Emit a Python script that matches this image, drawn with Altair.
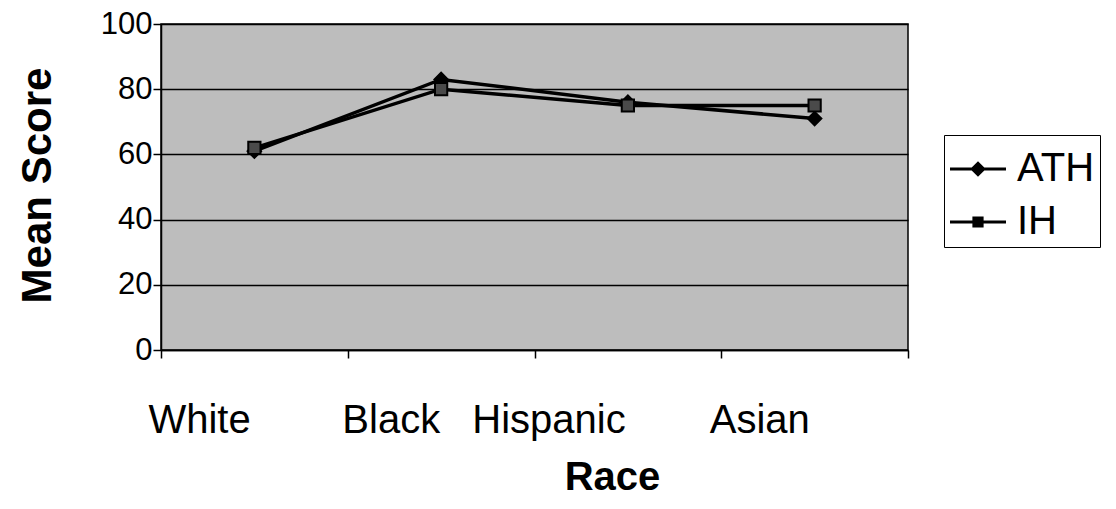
import altair as alt
import pandas as pd

races = ["White", "Black", "Hispanic", "Asian"]
ath = [61, 83, 76, 71]
ih = [62, 80, 75, 75]
series = ["ATH", "IH"]

rows = []
for name, vals in zip(series, [ath, ih]):
    for i, (r, v) in enumerate(zip(races, vals)):
        rows.append({"Race": r, "pos": i + 0.5, "Group": name, "Score": v})
df = pd.DataFrame(rows)

label_expr = "['" + "','".join(races) + "',''][datum.value]"

x = alt.X(
    "pos:Q",
    scale=alt.Scale(domain=[0, len(races)], nice=False, zero=False),
    axis=alt.Axis(
        values=list(range(len(races) + 1)),
        labelExpr=label_expr,
        title="Race",
        grid=False,
        domainColor="black",
        domainWidth=1.5,
        tickColor="black",
        tickWidth=1.5,
        tickSize=8,
        labelFont="Liberation Sans",
        labelFontSize=40,
        labelColor="black",
        labelOffset={
            "condition": [
                {"test": "datum.value == 1", "value": 43},
                {"test": "datum.value == 2", "value": 14},
            ],
            "value": 38,
        },
        labelBaseline="alphabetic",
        labelPadding=74,
        labelFlush=False,
        labelOverlap=False,
        titleFont="Liberation Sans",
        titleFontSize=40,
        titleFontWeight="bold",
        titleColor="black",
        titleX=451,
        titleY=139,
        titleBaseline="alphabetic",
        titleAnchor="start",
        titleAlign="center",
    ),
)

y = alt.Y(
    "Score:Q",
    scale=alt.Scale(domain=[0, 100], nice=False),
    axis=alt.Axis(
        values=[0, 20, 40, 60, 80, 100],
        title="Mean Score",
        grid=True,
        gridColor="black",
        gridWidth=1.5,
        gridOpacity=1,
        domainColor="black",
        domainWidth=1.5,
        tickColor="black",
        tickWidth=1.5,
        tickSize=8,
        labelFont="Liberation Sans",
        labelFontSize=31,
        labelColor="black",
        labelPadding=1,
        labelFlush=False,
        titleFont="Liberation Sans",
        titleFontSize=42,
        titleFontWeight="bold",
        titleColor="black",
        titleX=-111,
        titleY=161,
        titleBaseline="alphabetic",
        titleAnchor="start",
        titleAlign="center",
    ),
)

base = alt.Chart(df)

lines = base.mark_line(color="black", strokeWidth=3.5).encode(
    x=x, y=y, detail="Group:N"
)

points_ath = (
    base.transform_filter(alt.datum.Group == series[0])
    .mark_point(shape="diamond", filled=True, fill="black", stroke="black",
                strokeWidth=1.5, opacity=1, size=200)
    .encode(x=x, y=y)
)

points_ih = (
    base.transform_filter(alt.datum.Group == series[1])
    .mark_point(shape="square", filled=True, fill="#4a4a4a", stroke="black",
                strokeWidth=2, opacity=1, size=150)
    .encode(x=x, y=y)
)

# legend symbols: a thin bar (the line) with the marker on it
legend_paths = [
    "M-1,-0.05H1V0.05H-1Z M0,-0.28L0.28,0L0,0.28L-0.28,0Z",
    "M-1,-0.05H1V0.05H-1Z M-0.2,-0.2H0.2V0.2H-0.2Z",
]

legend_layer = (
    base.transform_filter("false")
    .mark_point(filled=True, color="black", opacity=1)
    .encode(
        x=x,
        y=y,
        shape=alt.Shape(
            "Group:N",
            scale=alt.Scale(domain=series, range=legend_paths),
            legend=alt.Legend(
                title=None,
                orient="none",
                legendX=783,
                legendY=111,
                fillColor="white",
                strokeColor="black",
                padding=5,
                rowPadding=4,
                symbolSize=3136,
                symbolFillColor="black",
                symbolOpacity=1,
                labelFont="Liberation Sans",
                labelFontSize=40,
                labelColor="black",
                labelOffset=10,
                cornerRadius=0,
            ),
        ),
    )
)

chart = (
    alt.layer(lines, points_ath, points_ih, legend_layer)
    .properties(
        width=747,
        height=326,
        autosize=alt.AutoSizeParams(type="none"),
        padding={"left": 153, "top": 16, "right": 200, "bottom": 151},
        background="white",
    )
    .configure_view(fill="#bdbdbd", stroke="black", strokeWidth=1.5)
)

chart.save("out.html", embed_options={"renderer": "svg", "actions": False})
